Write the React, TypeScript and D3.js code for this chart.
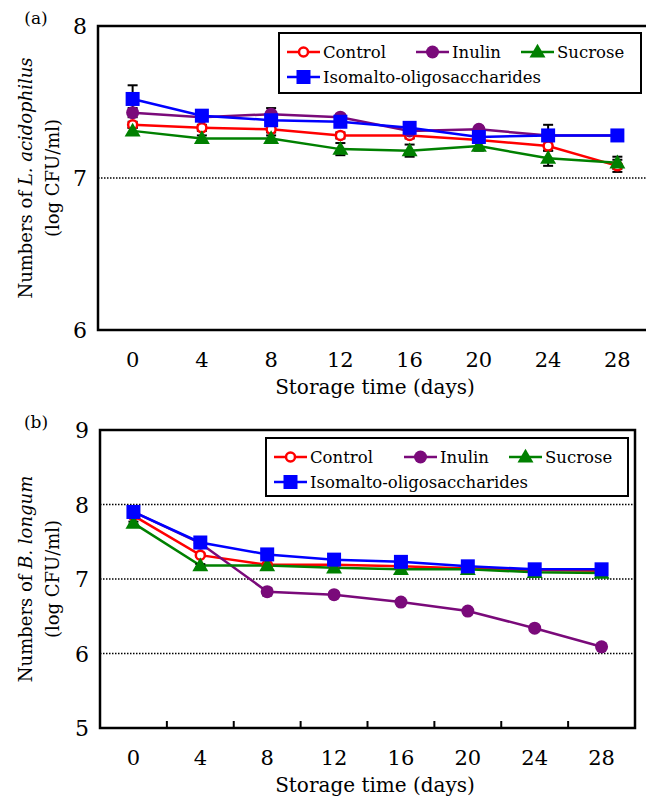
import React from 'react';
import * as d3 from 'd3';

// storage days
const days = [0, 4, 8, 12, 16, 20, 24, 28];
const seriesNames = ['Control', 'Inulin', 'Sucrose', 'Isomalto-oligosaccharides'];

// panel (a) L. acidophilus
const aControl = [7.35, 7.33, 7.32, 7.28, 7.28, 7.25, 7.21, 7.08];
const aInulin = [7.43, 7.40, 7.42, 7.40, 7.31, 7.32, 7.28, 7.28];
const aSucrose = [7.31, 7.26, 7.26, 7.19, 7.18, 7.21, 7.13, 7.10];
const aIMO = [7.52, 7.41, 7.38, 7.37, 7.33, 7.27, 7.28, 7.28];
const aControlErr = [0.02, 0.02, 0.02, 0.02, 0.02, 0.02, 0.03, 0.04];
const aInulinErr = [0.03, 0.02, 0.04, 0.02, 0.02, 0.02, 0.02, 0.02];
const aSucroseErr = [0.02, 0.02, 0.02, 0.04, 0.04, 0.03, 0.05, 0.04];
const aIMOErr = [0.09, 0.02, 0.02, 0.02, 0.02, 0.02, 0.07, 0.02];

// panel (b) B. longum
const bControl = [7.85, 7.32, 7.19, 7.19, 7.17, 7.14, 7.12, 7.11];
const bInulin = [7.90, 7.48, 6.83, 6.79, 6.69, 6.57, 6.34, 6.09];
const bSucrose = [7.75, 7.18, 7.18, 7.15, 7.13, 7.13, 7.09, 7.08];
const bIMO = [7.90, 7.49, 7.33, 7.26, 7.23, 7.17, 7.13, 7.13];
const bControlErr = [0.02, 0.02, 0.02, 0.02, 0.02, 0.02, 0.02, 0.02];
const bInulinErr = [0.02, 0.02, 0.05, 0.03, 0.02, 0.03, 0.03, 0.03];
const bSucroseErr = [0.02, 0.02, 0.02, 0.02, 0.02, 0.02, 0.02, 0.02];
const bIMOErr = [0.02, 0.02, 0.02, 0.02, 0.02, 0.02, 0.02, 0.02];

const colors = ['#ff0000', '#7a0a7a', '#008000', '#0000ff'];
const FONT = 'DejaVu Serif';

const Marker = ({ i, x, y }) => {
  const c = colors[i];
  if (i === 0)
    return <circle cx={x} cy={y} r={4.5} fill="#fff" stroke={c} strokeWidth={2.5} />;
  if (i === 1) return <circle cx={x} cy={y} r={6.5} fill={c} />;
  if (i === 2) {
    const s = d3.symbol().type(d3.symbolTriangle).size(110)();
    return <path d={s} transform={`translate(${x},${y + 1})`} fill={c} />;
  }
  return <rect x={x - 7} y={y - 7} width={14} height={14} fill={c} />;
};

const Panel = (p) => {
  const x = d3.scaleLinear().domain([-2, 30]).range([p.left, p.right]);
  const y = d3.scaleLinear().domain(p.yDomain).range([p.bottom, p.top]);
  const line = d3.line().x((d, k) => x(days[k])).y((d) => y(d));
  const midY = (p.top + p.bottom) / 2;

  return (
    <g>
      {p.grid.map((g) => (
        <line key={g} x1={p.left} x2={p.right} y1={y(g)} y2={y(g)}
          stroke="#000" strokeWidth={1.5} strokeDasharray="1.5,1.5" />
      ))}
      {p.minorTicks.map((t) => (
        <line key={t} x1={x(t)} x2={x(t)} y1={p.bottom} y2={p.bottom - 7} stroke="#000" strokeWidth={2} />
      ))}
      <rect x={p.left} y={p.top} width={p.right - p.left} height={p.bottom - p.top}
        fill="none" stroke="#000" strokeWidth={2.5} />

      {p.yTicks.map((t) => (
        <text key={t} fontFamily={FONT} x={p.left - 11} y={y(t) + 8} textAnchor="end" fontSize={22}>{t}</text>
      ))}
      {days.map((t) => (
        <text key={t} fontFamily={FONT} x={x(t)} y={p.bottom + 37} textAnchor="middle" fontSize={21}>{t}</text>
      ))}
      <text fontFamily={FONT} x={375} y={p.bottom + 64} textAnchor="middle" fontSize={20}>Storage time (days)</text>
      <text fontFamily={FONT} x={36} y={p.top - 2} textAnchor="middle" fontSize={17}>{p.tag}</text>

      <text fontFamily={FONT} transform={`translate(32,${midY}) rotate(-90)`} textAnchor="middle" fontSize={18}>
        {'Numbers of '}<tspan fontStyle="italic">{p.species}</tspan>
      </text>
      <text fontFamily={FONT} transform={`translate(59,${midY}) rotate(-90)`} textAnchor="middle" fontSize={18}>
        (log CFU/ml)
      </text>

      {p.series.map((s, i) => (
        <path key={i} d={line(s)} fill="none" stroke={colors[i]} strokeWidth={2.5} />
      ))}
      {p.series.map((s, i) =>
        s.map((v, k) => {
          const e = p.errs[i][k];
          const cx = x(days[k]);
          return (
            <g key={`${i}-${k}`} stroke="#000" strokeWidth={2}>
              <line x1={cx} x2={cx} y1={y(v - e)} y2={y(v + e)} />
              <line x1={cx - 5} x2={cx + 5} y1={y(v + e)} y2={y(v + e)} />
              <line x1={cx - 5} x2={cx + 5} y1={y(v - e)} y2={y(v - e)} />
            </g>
          );
        })
      )}
      {p.series.map((s, i) =>
        s.map((v, k) => <Marker key={`m${i}-${k}`} i={i} x={x(days[k])} y={y(v)} />)
      )}

      <rect x={p.lg.x} y={p.lg.y} width={p.lg.w} height={p.lg.h} fill="#fff" stroke="#000" strokeWidth={2} />
      {seriesNames.map((n, i) => {
        const row = i === 3 ? 1 : 0;
        const lx = i === 3 ? p.lg.cols[0] : p.lg.cols[i];
        const ly = p.lg.y + 19 + row * 25;
        return (
          <g key={n}>
            <line x1={lx} x2={lx + 33} y1={ly} y2={ly} stroke={colors[i]} strokeWidth={2.5} />
            <Marker i={i} x={lx + 16.5} y={ly} />
            <text fontFamily={FONT} x={lx + 36} y={ly + 6} fontSize={16.5}>{n}</text>
          </g>
        );
      })}
    </g>
  );
};

export default function App() {
  return (
    <svg width={646} height={804} style={{ position: 'absolute', left: 0, top: 0, background: '#fff' }}>
      <rect width={646} height={804} fill="#fff" />
      <Panel
        tag="(a)"
        species="L. acidophilus"
        left={98} right={652} top={26} bottom={330}
        yDomain={[6, 8]} yTicks={[6, 7, 8]} grid={[7]} minorTicks={[]}
        series={[aControl, aInulin, aSucrose, aIMO]}
        errs={[aControlErr, aInulinErr, aSucroseErr, aIMOErr]}
        lg={{ x: 279, y: 33, w: 362, h: 60, cols: [287, 416, 521] }}
      />
      <Panel
        tag="(b)"
        species="B. longum"
        left={100} right={635} top={430} bottom={728}
        yDomain={[5, 9]} yTicks={[5, 6, 7, 8, 9]} grid={[6, 7, 8]} minorTicks={[2, 6, 10, 14, 18, 22, 26]}
        series={[bControl, bInulin, bSucrose, bIMO]}
        errs={[bControlErr, bInulinErr, bSucroseErr, bIMOErr]}
        lg={{ x: 266, y: 438, w: 362, h: 58, cols: [274, 404, 509] }}
      />
    </svg>
  );
}
